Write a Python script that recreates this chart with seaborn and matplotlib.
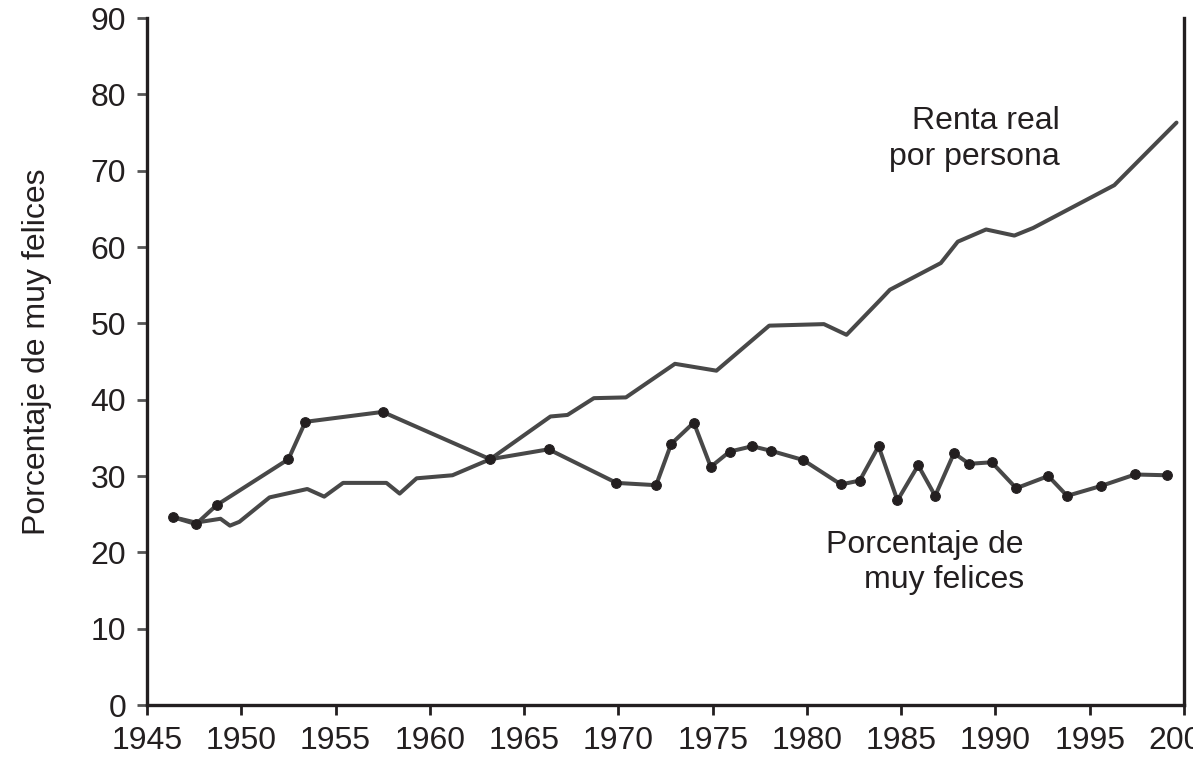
import pandas as pd
import matplotlib
matplotlib.use("Agg")
import matplotlib.pyplot as plt
import seaborn as sns

# Porcentaje de muy felices (points with markers)
happy_years = [1946.4, 1947.6, 1948.7, 1952.5, 1953.4, 1957.5, 1963.2, 1966.3,
               1969.9, 1972.0, 1972.8, 1974.0, 1974.9, 1975.9, 1977.1, 1978.1,
               1979.8, 1981.8, 1982.8, 1983.8, 1984.8, 1985.9, 1986.8, 1987.8,
               1988.6, 1989.8, 1991.1, 1992.8, 1993.8, 1995.6, 1997.4, 1999.1]
happy_values = [24.6, 23.7, 26.2, 32.2, 37.1, 38.4, 32.2, 33.5,
                29.1, 28.8, 34.2, 37.0, 31.2, 33.2, 33.9, 33.3,
                32.1, 28.9, 29.4, 33.9, 26.8, 31.4, 27.4, 33.0,
                31.6, 31.8, 28.4, 30.0, 27.4, 28.7, 30.2, 30.1]

# Renta real por persona (plain line)
income_years = [1946.4, 1947.6, 1948.9, 1949.4, 1949.9, 1951.5, 1953.5, 1954.4,
                1955.4, 1957.7, 1958.4, 1959.3, 1961.2, 1963.2, 1966.4, 1967.3,
                1968.7, 1970.4, 1973.0, 1975.2, 1978.0, 1980.9, 1982.1, 1983.9,
                1984.4, 1987.1, 1988.0, 1989.5, 1991.0, 1992.0, 1996.3, 1999.6]
income_values = [24.6, 23.9, 24.4, 23.5, 24.0, 27.2, 28.3, 27.3,
                 29.1, 29.1, 27.7, 29.7, 30.1, 32.2, 37.8, 38.0,
                 40.2, 40.3, 44.7, 43.8, 49.7, 49.9, 48.5, 53.1,
                 54.4, 57.9, 60.7, 62.3, 61.5, 62.5, 68.1, 76.3]

x_ticks = list(range(1945, 2001, 5))
y_ticks = list(range(0, 91, 10))


def main():
    sns.set_style("ticks")
    plt.rcParams['font.family'] = ['Liberation Sans', 'DejaVu Sans']
    ink = '#231f20'
    line_col = '#484848'

    happy_df = pd.DataFrame({'year': happy_years, 'pct': happy_values})
    income_df = pd.DataFrame({'year': income_years, 'pct': income_values})

    fig = plt.figure(figsize=(11.93, 7.64), dpi=100)
    ax = fig.add_axes([0.1232, 0.0772, 0.8693, 0.8992])

    sns.lineplot(data=income_df, x='year', y='pct', ax=ax, color=line_col,
                 linewidth=2.9, sort=False)
    sns.lineplot(data=happy_df, x='year', y='pct', ax=ax, color=line_col,
                 linewidth=2.9, sort=False, marker='o', markersize=7,
                 markerfacecolor=ink, markeredgecolor=ink)

    ax.set_xlim(1945, 2000)
    ax.set_ylim(0, 90)
    ax.set_xticks(x_ticks)
    ax.set_yticks(y_ticks)
    ax.tick_params(axis='x', length=7, width=2, colors=ink, pad=8, labelsize=23)
    ax.tick_params(axis='y', length=7, width=2, color='#555555', labelcolor=ink,
                   pad=8, labelsize=23)

    for side in ['left', 'bottom', 'right']:
        ax.spines[side].set_linewidth(2.4)
        ax.spines[side].set_color(ink)
    ax.spines['top'].set_visible(False)

    ax.set_xlabel('')
    ax.set_ylabel('Porcentaje de muy felices', fontsize=23, color=ink)
    ax.yaxis.set_label_coords(-0.092, 0.514)

    ax.text(1993.4, 75.4, 'Renta real', fontsize=23, color=ink, ha='right', va='baseline')
    ax.text(1993.4, 70.8, 'por persona', fontsize=23, color=ink, ha='right', va='baseline')
    ax.text(1991.5, 19.9, 'Porcentaje de', fontsize=23, color=ink, ha='right', va='baseline')
    ax.text(1991.5, 15.3, 'muy felices', fontsize=23, color=ink, ha='right', va='baseline')

    fig.savefig('out.png', dpi=100)


if '__main__' == __name__:
    main()
